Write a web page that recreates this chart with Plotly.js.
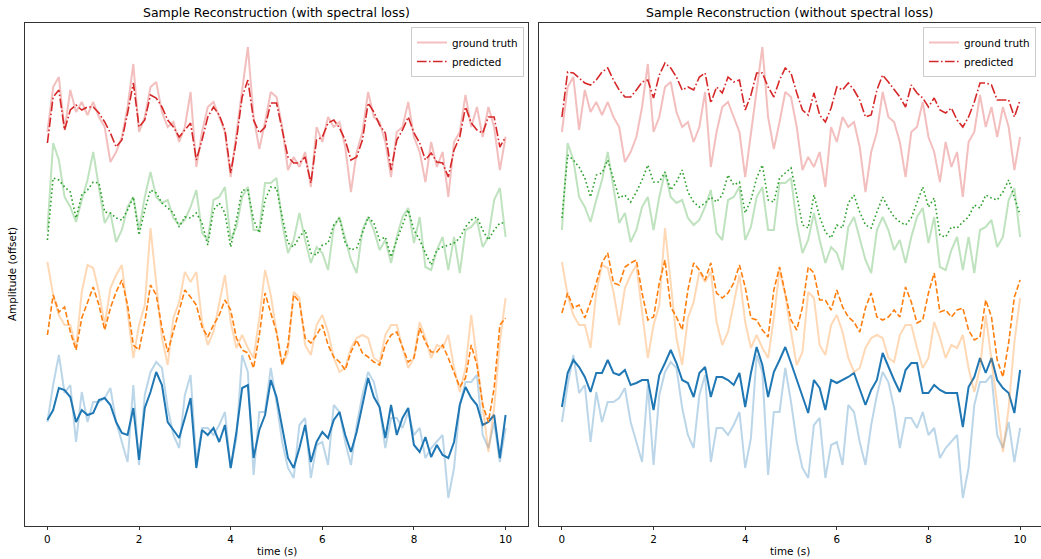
<!DOCTYPE html>
<html><head><meta charset="utf-8">
<script src="https://cdn.plot.ly/plotly-3.0.1.min.js"></script>
<style>html,body{margin:0;padding:0;background:#fff;}#chart{width:1041px;height:559px;}</style>
</head><body><div id="chart"></div>
<script>
const time = [0,0.125,0.25,0.375,0.5,0.625,0.75,0.875,1,1.125,1.25,1.375,1.5,1.625,1.75,1.875,2,2.125,2.25,2.375,2.5,2.625,2.75,2.875,3,3.125,3.25,3.375,3.5,3.625,3.75,3.875,4,4.125,4.25,4.375,4.5,4.625,4.75,4.875,5,5.125,5.25,5.375,5.5,5.625,5.75,5.875,6,6.125,6.25,6.375,6.5,6.625,6.75,6.875,7,7.125,7.25,7.375,7.5,7.625,7.75,7.875,8,8.125,8.25,8.375,8.5,8.625,8.75,8.875,9,9.125,9.25,9.375,9.5,9.625,9.75,9.875,10];
const xTicks = [0,2,4,6,8,10];

// ground truth (shared by both panels), offset amplitudes
const gtRed = [395,440,450,397,437,415,425,412,425,410,400,365,375,390,420,463,395,410,440,445,415,400,405,385,400,435,360,395,420,425,410,395,350,395,440,480,410,378,405,435,430,400,357,370,360,375,340,400,385,410,400,405,380,335,375,395,435,410,405,385,350,395,400,425,390,375,345,385,360,375,330,385,395,432,400,420,390,420,400,357,390];
const gtGreen = [297,384,367,330,320,305,327,347,375,340,304,314,285,297,320,330,297,330,355,330,324,327,309,302,307,320,337,294,287,327,330,340,287,300,330,340,297,297,344,344,349,304,274,287,314,287,264,280,274,257,300,310,287,267,254,297,310,297,277,287,264,290,310,319,284,310,260,257,277,290,257,290,254,297,300,307,280,290,327,339,290];
const gtOrange = [265,232,212,202,202,179,235,262,259,235,202,239,252,262,215,169,202,222,299,242,189,162,209,225,255,245,255,205,182,195,222,252,205,179,192,179,169,209,257,232,195,162,175,235,229,182,172,202,212,195,169,155,159,179,189,192,189,169,165,192,202,202,179,159,169,205,189,169,182,179,192,159,135,159,212,169,122,75,119,185,229];
const gtBlue = [105,142,172,134,142,85,135,105,125,125,129,139,105,85,65,142,62,132,155,165,159,119,92,79,132,152,65,99,99,92,102,115,59,89,172,155,52,115,115,159,125,85,59,49,102,109,49,82,85,62,122,115,85,62,102,132,155,145,119,79,109,109,99,115,92,99,69,79,85,92,29,59,122,145,145,152,92,79,105,65,99];

// predictions with spectral loss (left panel)
const predWithRed = [384,430,437,397,417,422,417,420,420,414,405,394,380,387,414,444,400,407,432,429,420,407,400,390,397,404,367,387,410,420,412,397,354,387,430,447,407,394,400,424,424,397,370,364,364,370,344,387,390,404,407,399,387,367,370,387,424,415,402,394,357,387,397,410,394,384,367,374,365,364,350,377,390,420,404,397,394,410,410,380,390];
const predWithGreen = [287,349,347,340,335,309,332,337,345,344,315,314,309,307,317,330,292,317,337,334,324,319,314,300,310,309,314,304,282,317,324,314,280,307,337,337,307,294,327,340,339,310,284,280,290,297,274,272,282,284,302,309,284,277,279,294,310,304,287,290,270,287,302,317,297,287,274,262,277,280,282,284,289,300,307,310,297,287,297,304,304];
const predWithOrange = [192,232,215,220,195,177,209,225,240,222,197,219,235,247,222,182,177,205,242,232,199,175,195,215,237,230,222,200,190,202,212,227,217,189,177,174,159,192,234,214,195,162,182,232,225,189,184,192,202,182,170,165,157,175,187,174,170,165,162,182,192,195,179,165,169,199,185,175,175,182,169,154,140,149,182,162,122,105,139,202,209];
const predWithBlue = [107,117,139,137,130,105,117,112,114,127,129,122,105,94,92,119,67,119,135,155,142,105,97,89,109,129,59,97,92,99,85,102,59,95,139,142,69,97,112,147,130,99,69,59,79,102,65,85,95,89,107,115,92,75,95,122,149,130,120,89,122,92,109,119,82,75,90,70,82,72,69,85,122,140,129,122,102,105,112,69,112];

// predictions without spectral loss (right panel)
const predWithoutRed = [410,455,454,449,444,442,447,455,459,447,437,430,430,437,445,447,429,452,464,459,450,437,440,437,450,454,424,440,434,450,445,447,417,432,454,454,440,430,447,459,454,434,417,412,434,412,405,419,440,437,444,437,427,410,412,437,452,445,437,430,420,442,434,429,420,429,417,414,419,407,400,410,425,444,444,442,427,427,427,410,427];
const predWithoutGreen = [309,372,367,360,349,330,352,354,367,349,329,332,325,335,347,362,345,345,355,337,345,357,335,325,320,324,330,325,332,352,342,345,314,327,349,362,327,325,349,354,359,332,302,299,332,310,295,289,302,299,324,332,315,302,299,315,330,319,310,305,302,309,325,340,320,329,292,290,300,299,305,310,322,319,332,329,327,335,347,329,312];
const predWithoutOrange = [214,234,219,222,209,225,244,264,274,244,242,260,264,267,234,207,210,244,267,220,210,197,237,264,257,247,264,234,229,234,244,262,240,209,207,197,190,237,260,234,207,197,220,260,254,227,227,217,237,220,210,205,195,219,234,210,207,210,217,210,240,225,204,207,234,254,215,217,210,217,219,197,187,190,227,210,167,150,184,230,247];
const predWithoutBlue = [120,154,167,160,150,135,154,154,167,154,152,157,142,144,147,147,117,152,164,177,164,147,144,130,154,160,130,150,150,147,142,154,120,154,180,162,130,155,167,180,164,147,132,114,147,139,117,147,144,147,150,154,137,122,137,147,174,160,147,135,157,164,164,134,134,142,137,134,134,134,100,140,150,169,154,169,147,139,134,114,157];

const titles = ["Sample Reconstruction (with spectral loss)", "Sample Reconstruction (without spectral loss)"];
const legendNames = ["ground truth", "predicted"];

const W = 1041, H = 559;
const FONT = "DejaVu Sans, Liberation Sans, sans-serif";
const chans = [
  {gt: gtBlue, c: "31,119,180", dash: "solid", w: 2, preds: [predWithBlue, predWithoutBlue]},
  {gt: gtOrange, c: "255,127,14", dash: "5.5px,2.4px", w: 1.6, preds: [predWithOrange, predWithoutOrange]},
  {gt: gtGreen, c: "44,160,44", dash: "1.6px,2.6px", w: 1.6, preds: [predWithGreen, predWithoutGreen]},
  {gt: gtRed, c: "214,39,40", dash: "9.6px,2.4px,1.6px,2.4px", w: 1.6, preds: [predWithRed, predWithoutRed]}
];
const traces = [];
[0,1].forEach(function(p){
  const xa = p === 0 ? "x" : "x2", ya = p === 0 ? "y" : "y2", lg = p === 0 ? "legend" : "legend2";
  chans.forEach(function(ch, i){
    const last = i === chans.length - 1;
    traces.push({x: time, y: ch.gt, xaxis: xa, yaxis: ya, type: "scatter", mode: "lines",
      line: {color: "rgba(" + ch.c + ",0.3)", width: 2}, name: legendNames[0], showlegend: last, legend: lg, hoverinfo: "skip"});
    traces.push({x: time, y: ch.preds[p], xaxis: xa, yaxis: ya, type: "scatter", mode: "lines",
      line: {color: "rgb(" + ch.c + ")", width: ch.w, dash: ch.dash}, name: legendNames[1], showlegend: last, legend: lg, hoverinfo: "skip"});
  });
});

const axX = {range: [-0.5, 10.5], tickvals: xTicks, ticks: "outside", ticklen: 3.5, tickwidth: 0.8, tickcolor: "#000",
  showline: true, mirror: true, linecolor: "#000", linewidth: 0.8, showgrid: false, zeroline: false,
  tickfont: {family: FONT, size: 10.4, color: "#000"}};
const axY = {range: [1, 504], showticklabels: false, ticks: "", showline: true, mirror: true, linecolor: "#000",
  linewidth: 0.8, showgrid: false, zeroline: false};
const py = v => 1 - v / H;
const layout = {
  width: W, height: H, margin: {l: 0, r: 0, t: 0, b: 0}, paper_bgcolor: "#fff", plot_bgcolor: "#fff",
  font: {family: FONT, size: 10.4, color: "#000"},
  xaxis: Object.assign({}, axX, {domain: [24.5 / W, 528.5 / W], anchor: "y"}),
  yaxis: Object.assign({}, axY, {domain: [py(526), py(23)], anchor: "x"}),
  xaxis2: Object.assign({}, axX, {domain: [539 / W, 1], range: [-0.5, 10.456], anchor: "y2"}),
  yaxis2: Object.assign({}, axY, {domain: [py(526), py(23)], anchor: "x2"}),
  legend: {x: 524 / W, y: py(27), xanchor: "right", yanchor: "top", bgcolor: "rgba(255,255,255,0.8)",
    bordercolor: "#cccccc", borderwidth: 1, font: {family: FONT, size: 10.4, color: "#000"}, itemwidth: 30, tracegroupgap: 0},
  legend2: {x: 1036 / W, y: py(27), xanchor: "right", yanchor: "top", bgcolor: "rgba(255,255,255,0.8)",
    bordercolor: "#cccccc", borderwidth: 1, font: {family: FONT, size: 10.4, color: "#000"}, itemwidth: 30, tracegroupgap: 0},
  annotations: [
    {text: titles[0], x: 276.5 / W, y: py(12), xref: "paper", yref: "paper", showarrow: false, xanchor: "center", yanchor: "middle", font: {family: FONT, size: 12.5, color: "#000"}},
    {text: titles[1], x: 789.5 / W, y: py(12), xref: "paper", yref: "paper", showarrow: false, xanchor: "center", yanchor: "middle", font: {family: FONT, size: 12.5, color: "#000"}},
    {text: "time (s)", x: 276.5 / W, y: py(551), xref: "paper", yref: "paper", showarrow: false, xanchor: "center", yanchor: "middle", font: {family: FONT, size: 10.4, color: "#000"}},
    {text: "time (s)", x: 790 / W, y: py(551), xref: "paper", yref: "paper", showarrow: false, xanchor: "center", yanchor: "middle", font: {family: FONT, size: 10.4, color: "#000"}},
    {text: "Amplitude (offset)", x: 12 / W, y: py(274), xref: "paper", yref: "paper", showarrow: false, textangle: -90, xanchor: "center", yanchor: "middle", font: {family: FONT, size: 10.4, color: "#000"}}
  ]
};
Plotly.newPlot("chart", traces, layout, {staticPlot: true, displayModeBar: false});
</script></body></html>
